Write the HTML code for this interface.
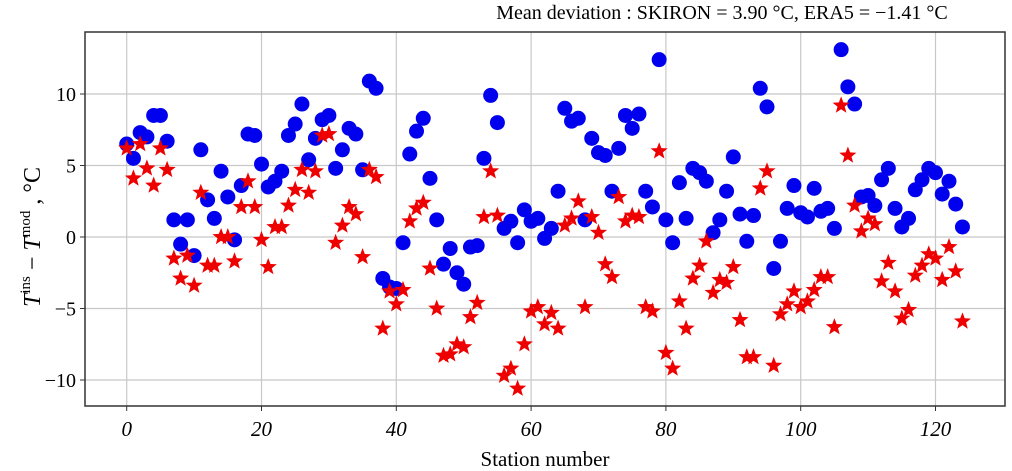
<!DOCTYPE html>
<html><head><meta charset="utf-8"><style>
body{margin:0;background:#fff;width:1012px;height:471px;overflow:hidden}
svg{display:block;font-family:"Liberation Serif",serif}
</style></head><body>
<svg id="chart" width="1012" height="471" viewBox="0 0 1012 471">
<text x="722" y="19" font-size="20" text-anchor="middle">Mean deviation :  SKIRON = 3.90 °C,  ERA5 = −1.41 °C</text>
<g id="grid"></g>
<g id="pts"></g>
<rect x="85" y="32" width="920" height="374" fill="none" stroke="#333" stroke-width="1.5"/>
<g id="ticks"></g>
<text x="545" y="466" font-size="21" text-anchor="middle">Station number</text>
<text transform="translate(40,237) rotate(-90)" font-size="24" text-anchor="middle"><tspan font-style="italic">T</tspan><tspan font-size="15" dy="-10">ins</tspan><tspan dy="10"> − </tspan><tspan font-style="italic">T</tspan><tspan font-size="15" dy="-10">mod</tspan><tspan dy="10"> , °C</tspan></text>
</svg>
<script>
const skiron = [6.5,5.5,7.3,7.0,8.5,8.5,6.7,1.2,-0.5,1.2,-1.3,6.1,2.6,1.3,4.6,2.8,-0.2,3.6,7.2,7.1,5.1,3.5,3.9,4.6,7.1,7.9,9.3,5.4,6.9,8.2,8.5,4.8,6.1,7.6,7.2,4.7,10.9,10.4,-2.9,-3.5,-3.6,-0.4,5.8,7.4,8.3,4.1,1.2,-1.9,-0.8,-2.5,-3.3,-0.7,-0.6,5.5,9.9,8.0,0.6,1.1,-0.4,1.9,1.1,1.3,-0.1,0.6,3.2,9.0,8.1,8.3,1.2,6.9,5.9,5.7,3.2,6.2,8.5,7.6,8.6,3.2,2.1,12.4,1.2,-0.4,3.8,1.3,4.8,4.5,3.9,0.3,1.2,3.2,5.6,1.6,-0.3,1.5,10.4,9.1,-2.2,-0.3,2.0,3.6,1.7,1.4,3.4,1.8,2.0,0.6,13.1,10.5,9.3,2.8,2.9,2.2,4.0,4.8,2.0,0.7,1.3,3.3,4.0,4.8,4.5,3.0,3.9,2.3,0.7];
const era5 = [6.2,4.1,6.5,4.8,3.6,6.2,4.7,-1.5,-2.9,-1.3,-3.4,3.1,-2.0,-2.0,0,0,-1.7,2.1,3.9,2.1,-0.2,-2.1,0.7,0.7,2.2,3.3,4.7,3.1,4.6,7.1,7.2,-0.4,0.8,2.1,1.6,-1.4,4.7,4.2,-6.4,-3.8,-4.7,-3.7,1.1,2.0,2.4,-2.2,-5.0,-8.3,-8.2,-7.5,-7.7,-5.6,-4.6,1.4,4.6,1.5,-9.7,-9.2,-10.6,-7.5,-5.2,-4.9,-6.1,-5.3,-6.4,0.8,1.3,2.5,-4.9,1.4,0.3,-1.9,-2.8,2.8,1.1,1.5,1.4,-4.9,-5.2,6.0,-8.1,-9.2,-4.5,-6.4,-2.9,-2.0,-0.3,-3.9,-3.0,-3.2,-2.1,-5.8,-8.4,-8.4,3.4,4.6,-9.0,-5.4,-4.7,-3.8,-4.9,-4.5,-3.7,-2.8,-2.8,-6.3,9.2,5.7,2.2,0.4,1.3,0.9,-3.1,-1.8,-3.8,-5.7,-5.1,-2.7,-2.0,-1.2,-1.5,-3.0,-0.7,-2.4,-5.9];
const xTicks = [0,20,40,60,80,100,120];
const yTicks = [-10,-5,0,5,10];

const X = v => 126.7 + v*6.74;
const Y = v => 237 - v*14.3;
const NS = 'http://www.w3.org/2000/svg';
function mk(tag, attrs, parent){const e=document.createElementNS(NS,tag);for(const k in attrs)e.setAttribute(k,attrs[k]);parent.appendChild(e);return e;}
const grid=document.getElementById('grid'), ticks=document.getElementById('ticks'), pts=document.getElementById('pts');
xTicks.forEach(t=>{
  const l=mk('line',{x1:X(t),x2:X(t),y1:32,y2:406,stroke:'#c8c8c8','stroke-width':1.2},grid);
  
  
  const tk=mk('line',{x1:X(t),x2:X(t),y1:406,y2:411,stroke:'#333'},ticks);
  
  
  const tx=mk('text',{x:X(t),y:436,'font-size':21,'font-style':'italic','text-anchor':'middle'},ticks);
  tx.textContent=t;
  
  
});
yTicks.forEach(t=>{
  const l=mk('line',{x1:85,x2:1005,y1:Y(t),y2:Y(t),stroke:'#c8c8c8','stroke-width':1.2},grid);
  
  
  const tk=mk('line',{x1:80,x2:85,y1:Y(t),y2:Y(t),stroke:'#333'},ticks);
  
  
  const tx=mk('text',{x:76,y:Y(t)+7,'font-size':20,'text-anchor':'end'},ticks);
  tx.textContent=t<0?'−'+Math.abs(t):t;
  
  
});
skiron.forEach((v,i)=>{
  const c=mk('circle',{cx:X(i),cy:Y(v),r:7.5,fill:'#0000ee'},pts);
  
  
});
function star(cx,cy,R){const r=R*0.42;let p=[];for(let k=0;k<10;k++){const a=-Math.PI/2+k*Math.PI/5;const rr=k%2?r:R;p.push((cx+rr*Math.cos(a)).toFixed(1)+','+(cy+rr*Math.sin(a)).toFixed(1));}return p.join(' ');}
era5.forEach((v,i)=>{
  const s=mk('polygon',{points:star(X(i),Y(v),9),fill:'#ee0000'},pts);
  
  
});
</script>
</body></html>
